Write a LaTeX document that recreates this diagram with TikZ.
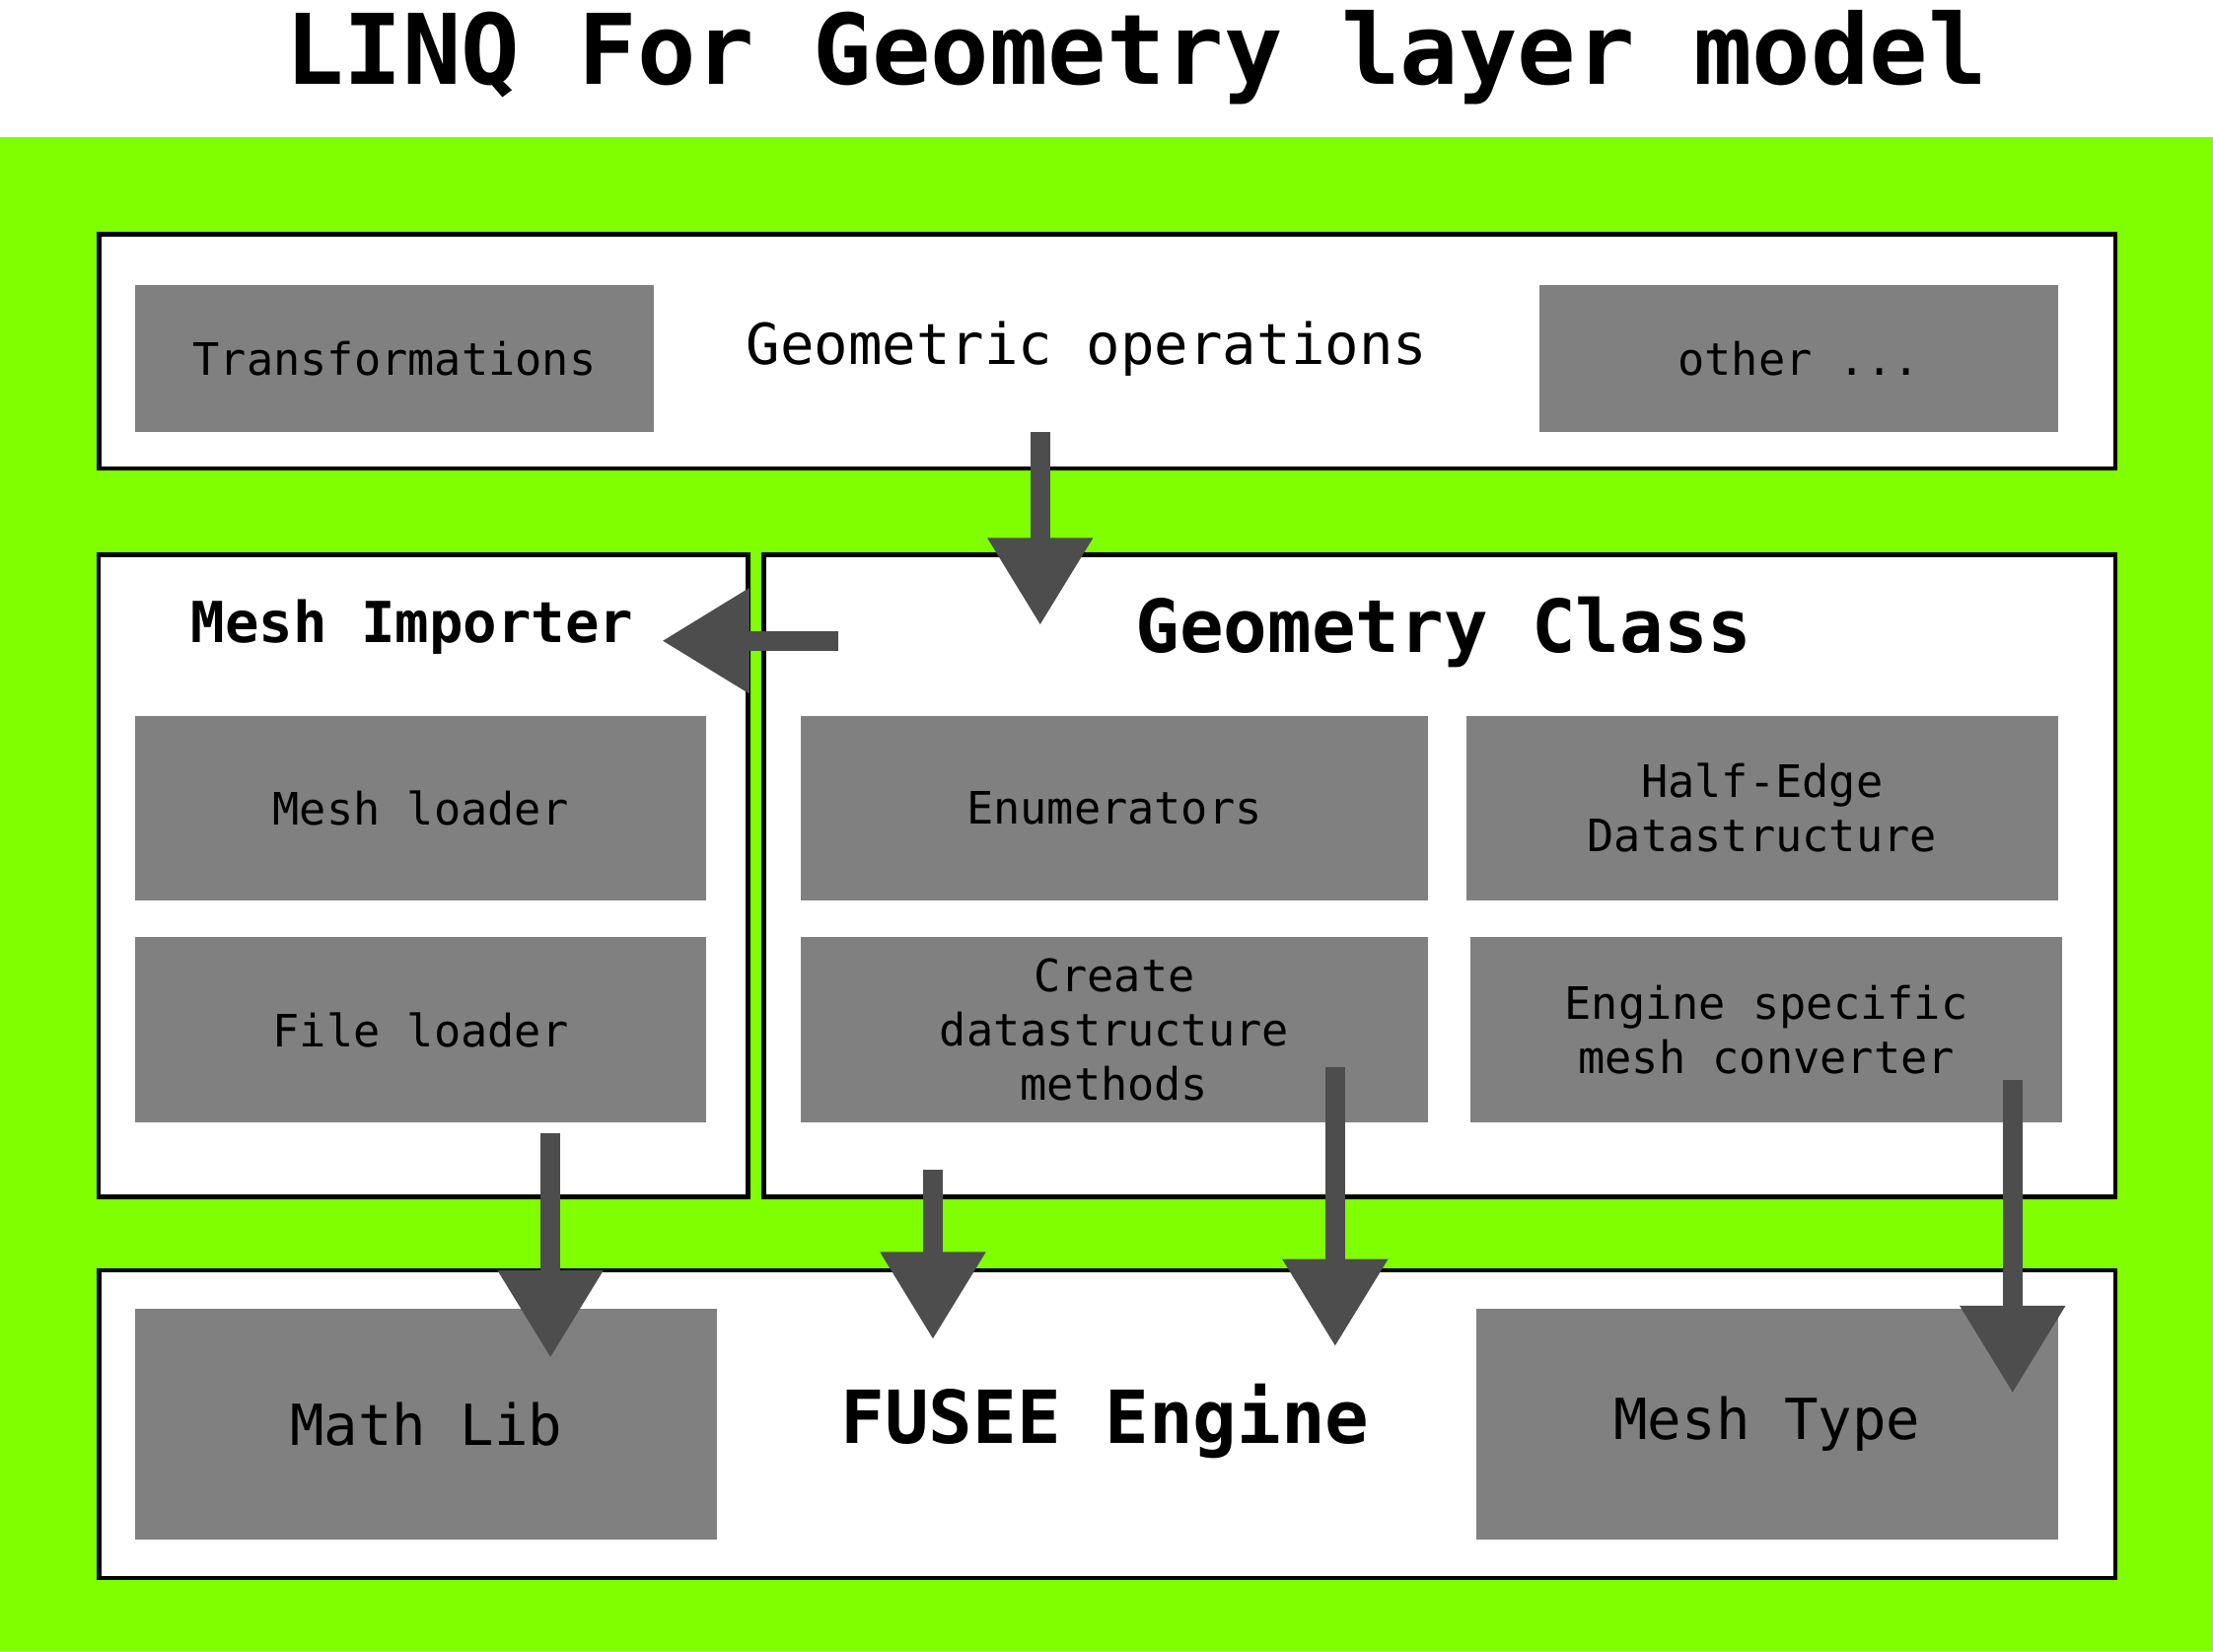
\documentclass[tikz,border=0pt]{standalone}
\usepackage{fontspec}
\setmainfont{DejaVu Sans Mono}
\usepackage{tikz}
\usetikzlibrary{arrows.meta}

\definecolor{limegreen}{RGB}{128,255,0}
\definecolor{boxgray}{RGB}{128,128,128}
\definecolor{arrowgray}{RGB}{77,77,77}

\newcommand{\boxfont}{\fontsize{18}{22}\selectfont}
\newcommand{\midfont}{\fontsize{22.8}{27}\selectfont}
\newcommand{\bigfont}{\fontsize{29.5}{34}\selectfont\bfseries}
\newcommand{\titlefont}{\fontsize{39.3}{46}\selectfont\bfseries}

\tikzset{
  layer/.style={draw=black, fill=white, line width=1.7pt, inner sep=0pt},
  part/.style={fill=boxgray, inner sep=0pt, align=center, font=\boxfont},
  flow/.style={draw=arrowgray, line width=0.28cm,
    -{Triangle[length=1.24cm,width=1.42cm]}}
}

\begin{document}
\begin{tikzpicture}[x=0.02cm,y=-0.02cm]
\useasboundingbox (0,0) rectangle (1568,1170);
\fill[white] (0,0) rectangle (1568,97);
\fill[limegreen] (0,97) rectangle (1568,1170);

\node[anchor=base] (title) at (805,60)
{\titlefont LINQ For Geometry layer model};

% layers
\node[layer, minimum width=28.58cm, minimum height=3.32cm] (ops) at (784.5,249) {};

\node[layer, minimum width=9.2cm, minimum height=9.1cm] (importer) at (300,620.5) {};

\node[layer, minimum width=19.16cm, minimum height=9.1cm] (geoclass) at (1020,620.5) {};

\node[layer, minimum width=28.58cm, minimum height=4.36cm] (fusee) at (784.5,1009) {};

% parts
\node[part, minimum width=7.34cm, minimum height=2.08cm] (transf) at (279.5,254)
{Transformations};

\node[part, minimum width=7.34cm, minimum height=2.08cm] (other) at (1274.5,254)
{other ...};

\node[part, minimum width=8.08cm, minimum height=2.62cm] (meshload) at (298,572.5)
{Mesh loader};

\node[part, minimum width=8.08cm, minimum height=2.62cm] (fileload) at (298,729.5)
{File loader};

\node[part, minimum width=8.9cm, minimum height=2.62cm] (enum) at (789.5,572.5)
{Enumerators};

\node[part, minimum width=8.38cm, minimum height=2.62cm] (halfedge) at (1248.5,572.5)
{Half-Edge\\Datastructure};

\node[part, minimum width=8.9cm, minimum height=2.62cm] (create) at (789.5,729.5)
{Create\\datastructure\\methods};

\node[part, minimum width=8.38cm, minimum height=2.62cm] (converter) at (1251.5,729.5)
{Engine specific\\mesh converter};

\node[part, minimum width=8.24cm, minimum height=3.28cm, font=\midfont] (mathlib) at (302,1009)
{Math Lib};

\node[part, minimum width=8.24cm, minimum height=3.28cm, font=\midfont] (meshtype) at (1252,1009)
{Mesh Type};

% headings
\node (opslabel) at (770,247) {\midfont Geometric operations};

\node (implabel) at (292,444) {\midfont\bfseries Mesh Importer};

\node (geolabel) at (1023,448) {\bigfont Geometry Class};

\node (fuseelabel) at (783,1007) {\bigfont FUSEE Engine};

% arrows
\coordinate (opsout) at (737,306);
\coordinate (geoin) at (737,443);
\coordinate (geoout) at (594,454);
\coordinate (impin) at (469,454);
\coordinate (fileout) at (390,803);
\coordinate (mathin) at (390,962);
\coordinate (geobottom) at (661,829);
\coordinate (fuseein) at (661,949);
\coordinate (createout) at (946,756);
\coordinate (fuseein2) at (946,954);
\coordinate (convout) at (1426,765);
\coordinate (typein) at (1426,987);

\draw[flow] (opsout) -- (geoin);

\draw[flow] (geoout) -- (impin);

\draw[flow] (fileout) -- (mathin);

\draw[flow] (geobottom) -- (fuseein);

\draw[flow] (createout) -- (fuseein2);

\draw[flow] (convout) -- (typein);
\end{tikzpicture}
\end{document}
